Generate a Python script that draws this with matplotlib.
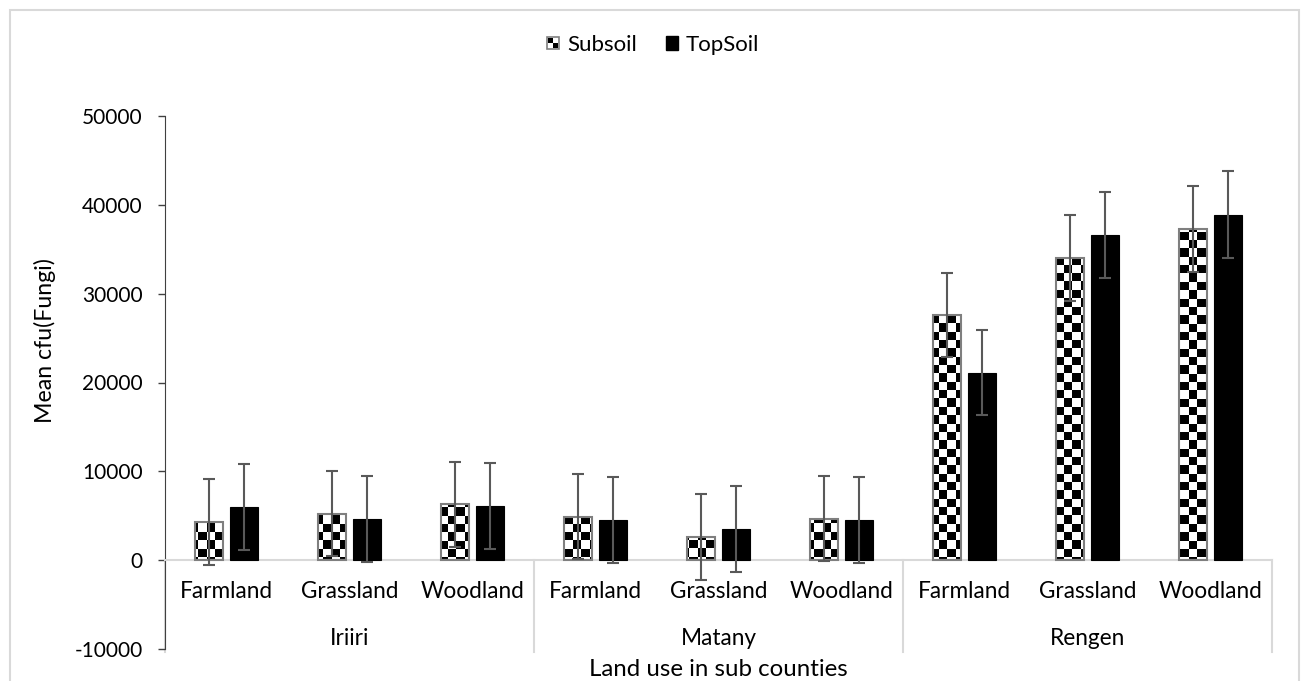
import numpy as np
import matplotlib
matplotlib.use("Agg")
import matplotlib.pyplot as plt
from matplotlib.patches import Rectangle
from matplotlib.legend_handler import HandlerBase

plt.rcParams['font.family'] = ['Lato', 'DejaVu Sans']
plt.rcParams['axes.unicode_minus'] = False

# Data
counties = ["Iriiri", "Matany", "Rengen"]
land_use = ["Farmland", "Grassland", "Woodland"] * 3
subsoil = [4300, 5250, 6300, 4900, 2600, 4650, 27600, 34000, 37300]
topsoil = [5950, 4600, 6100, 4500, 3550, 4500, 21100, 36600, 38900]
subsoil_err = [4800, 4800, 4800, 4750, 4800, 4800, 4770, 4800, 4820]
topsoil_err = [4850, 4860, 4850, 4850, 4850, 4850, 4800, 4850, 4870]
y_ticks = [-10000, 0, 10000, 20000, 30000, 40000, 50000]

W, H = 1306, 681
fig = plt.figure(figsize=(W / 100, H / 100), dpi=100)

# chart frame
fig.patches.append(Rectangle((10 / W, -0.05), 1289 / W, 1.05 - 10 / H,
                             transform=fig.transFigure, fill=False,
                             edgecolor='#d9d9d9', lw=1.5))

ax = fig.add_axes([165 / W, 1 - 649 / H, (1272 - 165) / W, 533 / H])

x = np.arange(len(land_use))
bw = 0.224
off = 0.143
ekw = dict(ecolor='#595959', elinewidth=1.5, capsize=4.3, capthick=1.5)

sub_bars = ax.bar(x - off, subsoil, bw, facecolor='none', edgecolor='#7f7f7f',
                  lw=1.5, zorder=3, yerr=subsoil_err, error_kw=ekw)
top_bars = ax.bar(x + off, topsoil, bw, color='black', edgecolor='black',
                  lw=0.8, zorder=3, yerr=topsoil_err, error_kw=ekw)

# checkerboard fill for the subsoil bars
cell = 8.3
nx, ny = int(1107 / cell), int(533 / cell)
checker = (np.add.outer(np.arange(ny), np.arange(nx)) % 2).astype(float)
for b in sub_bars:
    im = ax.imshow(checker, cmap='gray', vmin=0, vmax=1, interpolation='nearest',
                   extent=(-0.5, 8.5, -10000, 50000), aspect='auto', zorder=2)
    im.set_clip_path(b)

ax.set_xlim(-0.5, 8.5)
ax.set_ylim(-10000, 50000)
ax.set_yticks(y_ticks)
ax.tick_params(axis='y', labelsize=15, length=5, width=1, color='#404040', pad=11)

ax.spines['top'].set_visible(False)
ax.spines['right'].set_visible(False)
ax.spines['left'].set_color('#404040')
ax.spines['bottom'].set_position(('data', 0))
ax.spines['bottom'].set_color('#d9d9d9')
ax.spines['bottom'].set_linewidth(1.5)

ax.set_xticks(x)
ax.set_xticklabels(land_use)
ax.tick_params(axis='x', length=0, labelsize=16.3, pad=15)

for sep in [-0.5, 2.5, 5.5, 8.5]:
    ax.plot([sep, sep], [0, -10350], color='#d9d9d9', lw=1.5, clip_on=False, zorder=1)

for i, c in enumerate(counties):
    ax.text(3 * i + 1, -8800, c, ha='center', va='center', fontsize=16.3)

fig.text((165 + 1272) / 2 / W, 1 - 669 / H, "Land use in sub counties",
         ha='center', va='center', fontsize=17.3)
fig.text(45 / W, 1 - 341 / H, "Mean cfu(Fungi)", rotation=90,
         ha='center', va='center', fontsize=16.7)


class CheckerHandler(HandlerBase):
    def create_artists(self, legend, orig_handle, xdescent, ydescent,
                       width, height, fontsize, trans):
        s = min(width, height)
        x0 = -xdescent + (width - s) / 2
        y0 = -ydescent + (height - s) / 2
        h = s / 2
        arts = [Rectangle((x0, y0), s, s, facecolor='white', edgecolor='#7f7f7f',
                          lw=1.2, transform=trans),
                Rectangle((x0 + 1, y0 + h), h - 1, h - 1, facecolor='black',
                          lw=0, transform=trans),
                Rectangle((x0 + h, y0 + 1), h - 1, h - 1, facecolor='black',
                          lw=0, transform=trans)]
        return arts


leg_sub = Rectangle((0, 0), 1, 1)
leg_top = Rectangle((0, 0), 1, 1, color='black')
fig.legend([leg_sub, leg_top], ["Subsoil", "TopSoil"], loc='center',
           bbox_to_anchor=(0.5, 1 - 45 / H), ncol=2, frameon=False, fontsize=16,
           handlelength=0.55, handleheight=0.55, handletextpad=0.35, columnspacing=1.3,
           handler_map={leg_sub: CheckerHandler()})

fig.savefig("out.png", dpi=100)
